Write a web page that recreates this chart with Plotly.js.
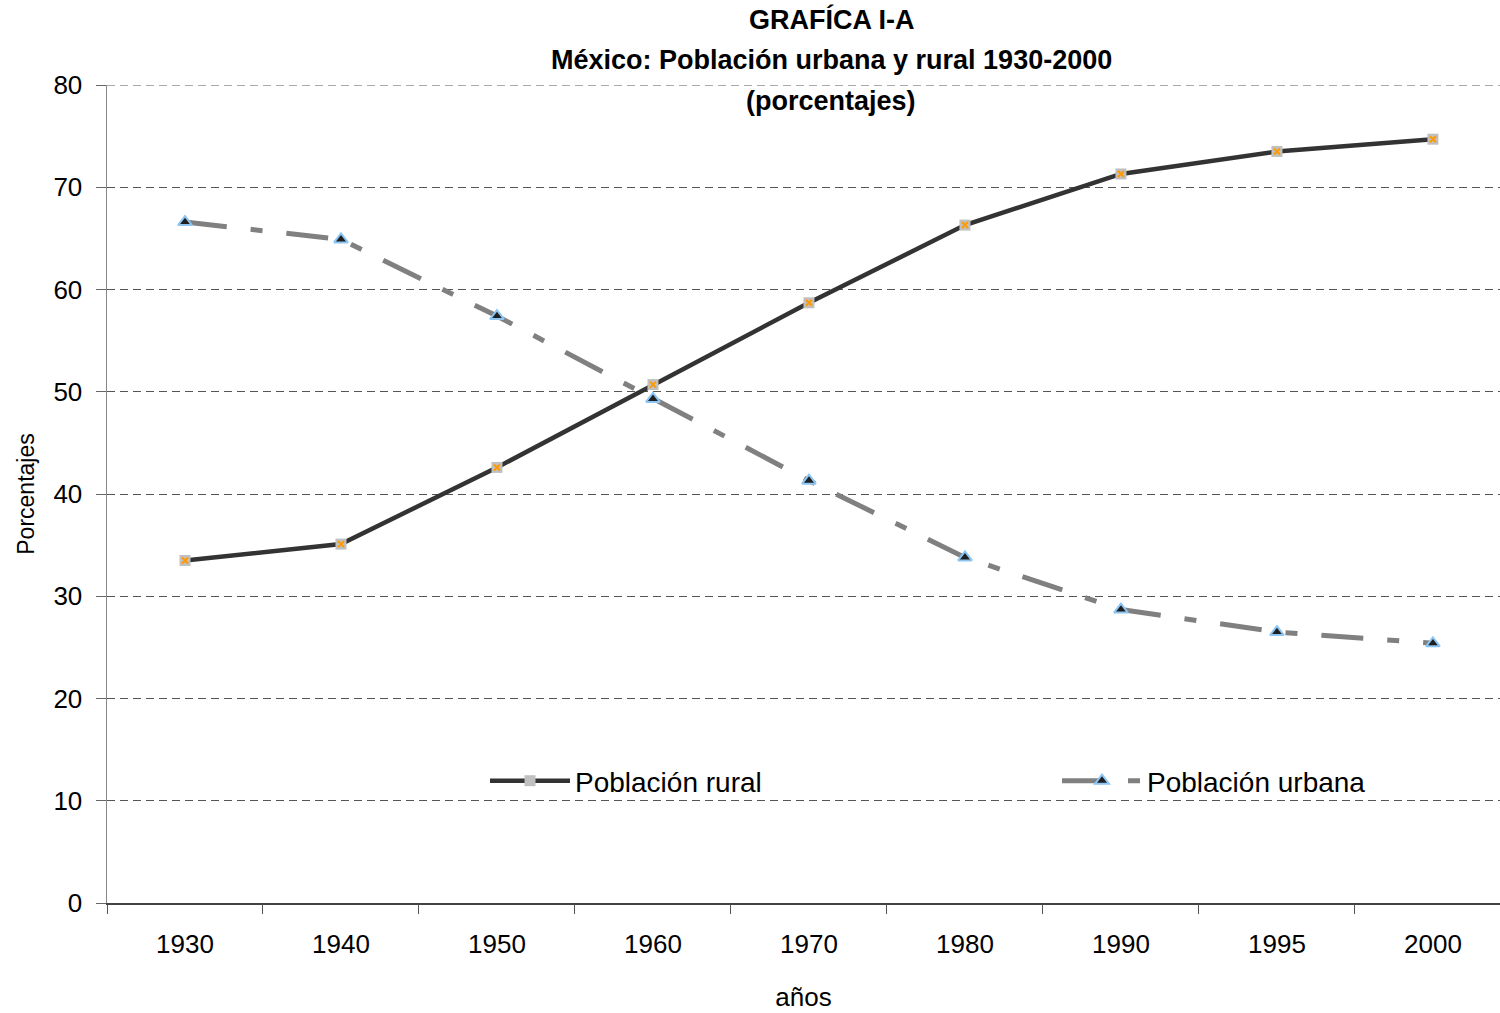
<!DOCTYPE html>
<html>
<head>
<meta charset="utf-8">
<script src="https://cdn.plot.ly/plotly-3.0.1.min.js"></script>
<style>html,body{margin:0;padding:0;background:#fff;}#chart{width:1500px;height:1013px;}</style>
</head>
<body>
<div id="chart"></div>
<script>
const years = ["1930","1940","1950","1960","1970","1980","1990","1995","2000"];
const rural = [33.5, 35.1, 42.6, 50.7, 58.7, 66.3, 71.3, 73.5, 74.7];
const urbana = [66.6, 64.9, 57.4, 49.3, 41.3, 33.8, 28.7, 26.5, 25.4];
const titleLines = ["GRAFÍCA I-A", "México: Población urbana y rural 1930-2000", "(porcentajes)"];
const yMax = 80;

const FONT = "Liberation Sans, Arial, Helvetica, sans-serif";
const PLOT_TOP = 85, PLOT_BOTTOM = 903, PLOT_LEFT = 107, PLOT_W = 1393;
const py = p => (PLOT_BOTTOM - p) / (PLOT_BOTTOM - PLOT_TOP);
const px = p => (p - PLOT_LEFT) / PLOT_W;

const traces = [
  {
    x: years, y: urbana, name: "Población urbana", type: "scatter", mode: "lines+markers",
    line: {color: "#808080", width: 5, dash: "42px,24px,12px,24px"},
    marker: {symbol: "triangle-up", size: 12, color: "#1f1f1f", line: {color: "#8cc4f2", width: 2}},
    legend: "legend2"
  },
  {
    x: years, y: rural, name: "Población rural", type: "scatter", mode: "lines+markers",
    line: {color: "#333333", width: 4.5},
    marker: {symbol: "square", size: 11, color: "#c0c0c0", line: {width: 0}},
    legendgroup: "rural", legend: "legend"
  },
  {
    x: years, y: rural, name: "Población rural", type: "scatter", mode: "markers",
    marker: {symbol: "x-thin", size: 6, color: "#ff9a00", line: {color: "#ff9a00", width: 2}},
    legendgroup: "rural", showlegend: false, hoverinfo: "skip"
  }
];

const annotations = titleLines.map((t, i) => ({
  text: "<b>" + t + "</b>", xref: "paper", yref: "paper",
  x: px(831), y: py([20, 60, 101][i]),
  xanchor: "center", yanchor: "middle", showarrow: false,
  font: {family: FONT, size: 27, color: "#000"}
}));

const legendBase = {
  orientation: "h", xanchor: "left", yanchor: "middle",
  font: {family: FONT, size: 28, color: "#000"},
  itemwidth: 80, bgcolor: "rgba(0,0,0,0)"
};

const layout = {
  width: 1500, height: 1013,
  margin: {l: 107, r: 0, t: 85, b: 110},
  paper_bgcolor: "#fff", plot_bgcolor: "#fff",
  font: {family: FONT, color: "#000"},
  showlegend: true,
  legend: Object.assign({}, legendBase, {x: px(485), y: py(781)}),
  legend2: Object.assign({}, legendBase, {x: px(1057), y: py(781)}),
  xaxis: {
    type: "category", range: [-0.5, 8.43], tickson: "boundaries",
    ticks: "outside", ticklen: 9, tickcolor: "#555", tickwidth: 1,
    showline: true, linecolor: "#444", linewidth: 1.5,
    showgrid: false, zeroline: false,
    tickfont: {family: FONT, size: 26, color: "#000"},
    ticklabelstandoff: 17,
    title: {text: "años", font: {family: FONT, size: 26, color: "#000"}, standoff: 30}
  },
  yaxis: {
    range: [0, yMax], dtick: 10, tick0: 0,
    ticks: "outside", ticklen: 10, tickcolor: "#666", tickwidth: 1,
    showline: true, linecolor: "#888", linewidth: 1.5,
    showgrid: true, gridcolor: "#555", gridwidth: 1, griddash: "8px,5px",
    zeroline: false,
    tickfont: {family: FONT, size: 26, color: "#000"},
    ticklabelstandoff: 8,
    title: {text: "Porcentajes", font: {family: FONT, size: 23, color: "#000"}, standoff: 12}
  },
  shapes: [{
    type: "line", xref: "paper", yref: "y", x0: 0, x1: 1, y0: yMax, y1: yMax,
    line: {color: "#555", width: 1, dash: "8px,5px"}, layer: "below"
  }],
  annotations: annotations
};

Plotly.newPlot("chart", traces, layout, {displayModeBar: false, staticPlot: true});
</script>
</body>
</html>
